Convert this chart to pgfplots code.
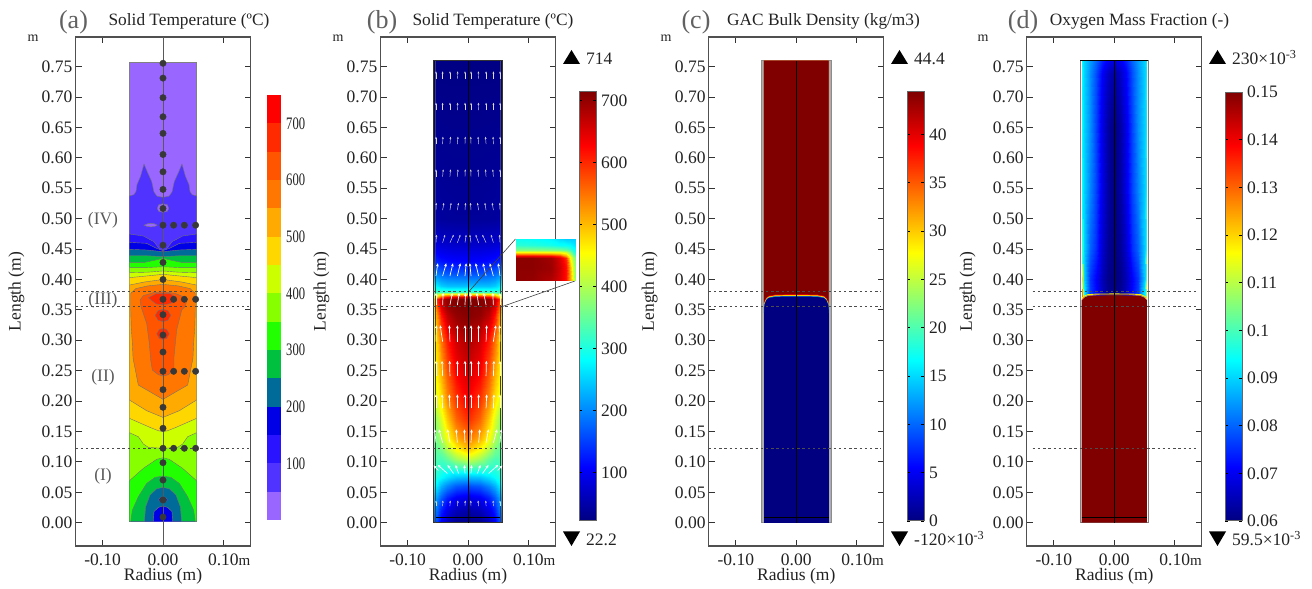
\documentclass[border=0pt]{standalone}
\usepackage{fontspec}
\usepackage{graphicx}
\usepackage{pgfplots}
\pgfplotsset{compat=1.18}
\usetikzlibrary{arrows.meta}
\setmainfont{Liberation Serif}
\newcommand\tk{\fontsize{17.5}{20}\selectfont}
\newcommand\ttl{\fontsize{17.3}{20}\selectfont}
\newcommand\pl{\fontsize{26}{28}\selectfont}
\definecolor{txt}{HTML}{222222}
\definecolor{axg}{HTML}{505050}
\definecolor{ca0}{HTML}{9966FF}\definecolor{ca1}{HTML}{5033FF}\definecolor{ca2}{HTML}{2A14FF}
\definecolor{ca3}{HTML}{0000E6}\definecolor{ca4}{HTML}{006B99}\definecolor{ca5}{HTML}{00C040}
\definecolor{ca6}{HTML}{22FF00}\definecolor{ca7}{HTML}{88FF00}\definecolor{ca8}{HTML}{CCFF00}
\definecolor{ca9}{HTML}{FFD700}\definecolor{ca10}{HTML}{FFAA00}\definecolor{ca11}{HTML}{FF7700}
\definecolor{ca12}{HTML}{FF5500}\definecolor{ca13}{HTML}{FF2A00}\definecolor{ca14}{HTML}{FF0000}
\definecolor{dred}{rgb}{0.5,0,0}\definecolor{dblu}{rgb}{0,0,0.5}
\pgfplotsset{colormap/jet}
\pgfplotsset{
 pan/.style={scale only axis,width=175pt,height=509pt,
  xmin=-0.1448,xmax=0.1448,ymin=-0.0383,ymax=0.7988,
  axis line style={draw=axg,line width=1.1pt},
  tick style={draw=black!80,line width=0.9pt},
  major tick length=6pt,tick align=inside,
  xtick={-0.1,0,0.1},xticklabels={-0.10,0.00,{0.10\rlap{\fontsize{15}{15}\selectfont m}}},
  ytick={0,0.05,0.10,0.15,0.20,0.25,0.30,0.35,0.40,0.45,0.50,0.55,0.60,0.65,0.70,0.75},
  ticklabel style={font=\tk,text=txt},
  yticklabel style={/pgf/number format/fixed,/pgf/number format/fixed zerofill,/pgf/number format/precision=2,/pgf/number format/assume math mode=true,inner sep=0pt,xshift=-3pt},
  xticklabel style={anchor=base,yshift=-20pt,inner sep=0pt},
  xlabel={Radius (m)},ylabel={Length (m)},
  label style={font=\tk,text=txt},
  x label style={at={(axis description cs:0.5,0)},anchor=base,yshift=-35pt,inner sep=0pt},
  y label style={at={(axis description cs:0,0.5)},anchor=base,yshift=55pt,inner sep=0pt},
  point meta min=22.2,point meta max=714,colormap name=jet,
 },
 dsh/.style={draw=black!70,line width=0.9pt,dash pattern=on 2.4pt off 2.8pt},
 ct/.style={draw=black!55,line width=0.4pt},
 cb/.style={scale only axis,width=17pt,axis on top,xmin=0,xmax=1,xtick=\empty,
  colormap name=jet,
  axis line style={draw=black!60,line width=1pt},
  tick style={draw=black,line width=0.8pt},major tick length=3pt,tick align=inside,
  yticklabel pos=right,ticklabel style={font=\tk,text=txt},
  yticklabel style={/pgf/number format/assume math mode=true,inner sep=0pt,xshift=5pt}},
}
\begin{document}
\begin{tikzpicture}[x=1pt,y=1pt]
\path (0,0) rectangle (1312,589);
% ============ panel a
\begin{axis}[pan,at={(75.5pt,43pt)},anchor=south west]
\addplot[fill=ca0,draw=black!50,line width=0.5pt] coordinates {(-.0555,.002)(.0555,.002)(.0555,.7566)(-.0555,.7566)} -- cycle;
\addplot[fill=ca1,ct] coordinates {(-.0555,.002)(-.0555,.5373)(-.0480,.5395)(-.0446,.5450)(-.0430,.5560)(-.0370,.5700)(-.0314,.5899)(-.0260,.5770)(-.0187,.5609)(-.0150,.5440)(-.0100,.5370)(0,.5351)(.0100,.5370)(.0150,.5440)(.0187,.5609)(.0260,.5770)(.0314,.5899)(.0370,.5700)(.0430,.5560)(.0446,.5450)(.0480,.5395)(.0555,.5373)(.0555,.002)};
\addplot[fill=ca0,ct] coordinates {(-.0095,.517)(-.007,.523)(0,.5245)(.007,.523)(.0095,.517)(.007,.512)(0,.5105)(-.007,.512)} -- cycle;
\addplot[fill=ca0,ct] coordinates {(-.0314,.4893)(-.026,.4915)(-.020,.4925)(-.014,.4915)(-.0095,.4893)(-.014,.4872)(-.020,.4865)(-.026,.4872)} -- cycle;
\addplot[fill=ca2,ct] coordinates {(-.0555,.002)(-.0555,.4748)(-.0325,.4715)(-.0149,.4622)(-.005,.4490)(0,.4441)(.005,.4490)(.0149,.4622)(.0325,.4715)(.0555,.4748)(.0555,.002)};
\addplot[fill=ca3,ct] coordinates {(-.0555,.002)(-.0555,.4611)(-.027,.4594)(-.0105,.4512)(0,.4474)(.0105,.4512)(.027,.4594)(.0555,.4611)(.0555,.002)};
\addplot[fill=ca4,ct] coordinates {(-.0555,.002)(-.0555,.4496)(-.027,.4485)(0,.4457)(.027,.4485)(.0555,.4496)(.0555,.002)(.016,.002)(.0149,.0181)(.0077,.0252)(0,.0274)(-.0077,.0252)(-.0149,.0181)(-.016,.002)} -- cycle;
\addplot[fill=ca3,ct] coordinates {(-.0072,.0373)(-.004,.0420)(.004,.0420)(.0072,.0373)(.004,.0340)(-.004,.0340)} -- cycle;
\addplot[fill=ca5,ct] coordinates {(-.0555,.002)(-.0555,.4391)(-.027,.4391)(0,.4375)(.027,.4391)(.0555,.4391)(.0555,.002)(.0309,.002)(.0287,.0263)(.0215,.0455)(.0105,.0559)(0,.0581)(-.0105,.0559)(-.0215,.0455)(-.0287,.0263)(-.0309,.002)} -- cycle;
\addplot[fill=ca6,ct] coordinates {(-.0555,.002)(-.0555,.4282)(-.03,.4282)(-.012,.432)(0,.4348)(.012,.432)(.03,.4282)(.0555,.4282)(.0555,.002)(.0534,.002)(.0507,.0208)(.0408,.0428)(.027,.0647)(.0132,.0746)(0,.0768)(-.0132,.0746)(-.027,.0647)(-.0408,.0428)(-.0507,.0208)(-.0534,.002)} -- cycle;
\addplot[fill=ca7,ct] coordinates {(-.0555,.0691)(-.0555,.4194)(-.03,.4194)(0,.4210)(.03,.4194)(.0555,.4194)(.0555,.0691)(.0325,.0894)(.0105,.1042)(0,.1069)(-.0105,.1042)(-.0325,.0894)} -- cycle;
\addplot[fill=ca8,ct] coordinates {(-.0555,.148)(-.0555,.4112)(-.025,.4120)(0,.4140)(.025,.4120)(.0555,.4112)(.0555,.148)(.0408,.1414)(.0325,.1294)(.0242,.1239)(0,.1223)(-.0242,.1239)(-.0325,.1294)(-.0408,.1414)} -- cycle;
\addplot[fill=ca9,ct] coordinates {(-.0555,.1716)(-.0555,.4030)(-.025,.4060)(0,.4085)(.025,.4060)(.0555,.4030)(.0555,.1716)(.0215,.1568)(.0077,.1513)(0,.1497)(-.0077,.1513)(-.0215,.1568)} -- cycle;
\addplot[fill=ca10,ct] coordinates {(-.0555,.2018)(-.0555,.3909)(-.03,.3960)(0,.4000)(.03,.3960)(.0555,.3909)(.0555,.2018)(.027,.1842)(0,.1732)(-.027,.1842)} -- cycle;
\addplot[fill=ca11,ct] coordinates {(-.0534,.377)(-.045,.3850)(-.025,.3895)(0,.392)(.025,.3895)(.045,.3850)(.0534,.377)(.0534,.35)(.0525,.32)(.051,.30)(.0495,.27)(.0408,.2264)(0,.2029)(-.0408,.2264)(-.0495,.27)(-.051,.30)(-.0525,.32)(-.0534,.35)} -- cycle;
\addplot[fill=ca12,ct] coordinates {(-.038,.3662)(-.0325,.3734)(-.016,.3783)(0,.38)(.02,.3772)(.0336,.3717)(.039,.3635)(.0364,.3553)(.0309,.3498)(.0226,.3169)(.0182,.273)(.0182,.2511)(.0088,.2434)(0,.2412)(-.0077,.2434)(-.0176,.2511)(-.0204,.2675)(-.0226,.295)(-.027,.3279)(-.0364,.3553)} -- cycle;
\addplot[fill=ca13,ct] coordinates {(-.024,.3700)(-.012,.3765)(0,.3775)(.012,.3765)(.02,.372)(.023,.365)(.012,.3605)(0,.358)(-.012,.36)} -- cycle;
\addplot[fill=ca13,ct] coordinates {(-.013,.3410)(-.008,.349)(0,.351)(.008,.349)(.013,.3410)(.008,.333)(0,.3306)(-.008,.333)} -- cycle;
\addplot[fill=ca13,ct] coordinates {(-.0105,.3105)(-.006,.318)(0,.3196)(.006,.318)(.0105,.3105)(.006,.303)(0,.3015)(-.006,.303)} -- cycle;
\addplot[draw=black!65,line width=0.8pt] coordinates {(0,-.0383)(0,.7988)};
\addplot[dsh] coordinates {(-.1448,.38)(.143,.38)};
\addplot[dsh] coordinates {(-.1448,.355)(.143,.355)};
\addplot[dsh] coordinates {(-.1448,.122)(.143,.122)};
\addplot[only marks,mark=*,mark size=3.2pt,color=black!78,mark options={draw=black!78,fill=black!78}] table[row sep=\\] {
x y\\ 0 .7556\\ 0 .7312\\ 0 .699\\ 0 .6676\\ 0 .6403\\ 0 .6056\\ 0 .5771\\ 0 .5481\\ 0 .5168\\ 0 .4893\\ 0 .4564\\ 0 .4280\\ 0 .4000\\ 0 .3674\\ 0 .3421\\ 0 .3087\\ 0 .2807\\ 0 .2490\\ 0 .2188\\ 0 .1898\\ 0 .1553\\ 0 .1224\\ 0 .0987\\ 0 .0702\\ 0 .0373\\ 0 .0094\\
.0176 .4893\\ .0353 .4893\\ .054 .4893\\ .0176 .3674\\ .0353 .3674\\ .054 .3674\\ .0176 .249\\ .0353 .249\\ .054 .249\\ .0176 .1224\\ .0353 .1224\\ .054 .1224\\
};
\end{axis}
% colour bar a
\begin{axis}[scale only axis,width=14pt,height=425pt,at={(267pt,69pt)},anchor=south west,xmin=0,xmax=1,ymin=0,ymax=750,
 axis line style={draw=none},xtick=\empty,ytick={100,200,300,400,500,600,700},
 yticklabels={\scalebox{.72}[1]{100},\scalebox{.72}[1]{200},\scalebox{.72}[1]{300},\scalebox{.72}[1]{400},\scalebox{.72}[1]{500},\scalebox{.72}[1]{600},\scalebox{.72}[1]{700}},
 yticklabel pos=right,major tick length=0pt,ticklabel style={font=\tk,text=txt,inner sep=0pt,xshift=5pt}]
\addplot[fill=ca0,draw=none] coordinates {(0,0)(1,0)(1,50)(0,50)};
\addplot[fill=ca1,draw=none] coordinates {(0,50)(1,50)(1,100)(0,100)};
\addplot[fill=ca2,draw=none] coordinates {(0,100)(1,100)(1,150)(0,150)};
\addplot[fill=ca3,draw=none] coordinates {(0,150)(1,150)(1,200)(0,200)};
\addplot[fill=ca4,draw=none] coordinates {(0,200)(1,200)(1,250)(0,250)};
\addplot[fill=ca5,draw=none] coordinates {(0,250)(1,250)(1,300)(0,300)};
\addplot[fill=ca6,draw=none] coordinates {(0,300)(1,300)(1,350)(0,350)};
\addplot[fill=ca7,draw=none] coordinates {(0,350)(1,350)(1,400)(0,400)};
\addplot[fill=ca8,draw=none] coordinates {(0,400)(1,400)(1,450)(0,450)};
\addplot[fill=ca9,draw=none] coordinates {(0,450)(1,450)(1,500)(0,500)};
\addplot[fill=ca10,draw=none] coordinates {(0,500)(1,500)(1,550)(0,550)};
\addplot[fill=ca11,draw=none] coordinates {(0,550)(1,550)(1,600)(0,600)};
\addplot[fill=ca12,draw=none] coordinates {(0,600)(1,600)(1,650)(0,650)};
\addplot[fill=ca13,draw=none] coordinates {(0,650)(1,650)(1,700)(0,700)};
\addplot[fill=ca14,draw=none] coordinates {(0,700)(1,700)(1,750)(0,750)};
\end{axis}
% ============ panel b
\begin{axis}[pan,at={(380.5pt,43pt)},anchor=south west]
\addplot[surf,shader=interp,mesh/cols=11,point meta=explicit] coordinates {
(-.0573,0)[170](-.052,0)[150](-.045,0)[100](-.035,0)[60](-.02,0)[30](0,0)[25](.02,0)[30](.035,0)[60](.045,0)[100](.052,0)[150](.0573,0)[170]
(-.0573,.02)[200](-.052,.02)[180](-.045,.02)[130](-.035,.02)[90](-.02,.02)[60](0,.02)[50](.02,.02)[60](.035,.02)[90](.045,.02)[130](.052,.02)[180](.0573,.02)[200]
(-.0573,.04)[230](-.052,.04)[210](-.045,.04)[170](-.035,.04)[130](-.02,.04)[100](0,.04)[90](.02,.04)[100](.035,.04)[130](.045,.04)[170](.052,.04)[210](.0573,.04)[230]
(-.0573,.06)[280](-.052,.06)[265](-.045,.06)[230](-.035,.06)[200](-.02,.06)[170](0,.06)[160](.02,.06)[170](.035,.06)[200](.045,.06)[230](.052,.06)[265](.0573,.06)[280]
(-.0573,.075)[310](-.052,.075)[300](-.045,.075)[285](-.035,.075)[265](-.02,.075)[245](0,.075)[240](.02,.075)[245](.035,.075)[265](.045,.075)[285](.052,.075)[300](.0573,.075)[310]
(-.0573,.09)[330](-.052,.09)[320](-.045,.09)[310](-.035,.09)[310](-.02,.09)[320](0,.09)[330](.02,.09)[320](.035,.09)[310](.045,.09)[310](.052,.09)[320](.0573,.09)[330]
(-.0573,.105)[340](-.052,.105)[335](-.045,.105)[330](-.035,.105)[350](-.02,.105)[390](0,.105)[420](.02,.105)[390](.035,.105)[350](.045,.105)[330](.052,.105)[335](.0573,.105)[340]
(-.0573,.12)[350](-.052,.12)[350](-.045,.12)[360](-.035,.12)[400](-.02,.12)[450](0,.12)[490](.02,.12)[450](.035,.12)[400](.045,.12)[360](.052,.12)[350](.0573,.12)[350]
(-.0573,.14)[360](-.052,.14)[370](-.045,.14)[400](-.035,.14)[450](-.02,.14)[510](0,.14)[550](.02,.14)[510](.035,.14)[450](.045,.14)[400](.052,.14)[370](.0573,.14)[360]
(-.0573,.17)[390](-.052,.17)[395](-.045,.17)[430](-.035,.17)[490](-.02,.17)[560](0,.17)[600](.02,.17)[560](.035,.17)[490](.045,.17)[430](.052,.17)[395](.0573,.17)[390]
(-.0573,.20)[440](-.052,.20)[440](-.045,.20)[470](-.035,.20)[530](-.02,.20)[590](0,.20)[630](.02,.20)[590](.035,.20)[530](.045,.20)[470](.052,.20)[440](.0573,.20)[440]
(-.0573,.25)[450](-.052,.25)[470](-.045,.25)[510](-.035,.25)[570](-.02,.25)[630](0,.25)[660](.02,.25)[630](.035,.25)[570](.045,.25)[510](.052,.25)[470](.0573,.25)[450]
(-.0573,.30)[455](-.052,.30)[490](-.045,.30)[550](-.035,.30)[610](-.02,.30)[660](0,.30)[685](.02,.30)[660](.035,.30)[610](.045,.30)[550](.052,.30)[490](.0573,.30)[455]
(-.0573,.34)[460](-.052,.34)[530](-.045,.34)[610](-.035,.34)[670](-.02,.34)[700](0,.34)[710](.02,.34)[700](.035,.34)[670](.045,.34)[610](.052,.34)[530](.0573,.34)[460]
(-.0573,.36)[470](-.052,.36)[580](-.045,.36)[660](-.035,.36)[700](-.02,.36)[712](0,.36)[714](.02,.36)[712](.035,.36)[700](.045,.36)[660](.052,.36)[580](.0573,.36)[470]
(-.0573,.368)[470](-.052,.368)[600](-.045,.368)[670](-.035,.368)[700](-.02,.368)[712](0,.368)[714](.02,.368)[712](.035,.368)[700](.045,.368)[670](.052,.368)[600](.0573,.368)[470]
(-.0573,.372)[420](-.052,.372)[500](-.045,.372)[580](-.035,.372)[630](-.02,.372)[650](0,.372)[660](.02,.372)[650](.035,.372)[630](.045,.372)[580](.052,.372)[500](.0573,.372)[420]
(-.0573,.376)[380](-.052,.376)[400](-.045,.376)[440](-.035,.376)[460](-.02,.376)[465](0,.376)[470](.02,.376)[465](.035,.376)[460](.045,.376)[440](.052,.376)[400](.0573,.376)[380]
(-.0573,.38)[340](-.052,.38)[320](-.045,.38)[320](-.035,.38)[320](-.02,.38)[320](0,.38)[320](.02,.38)[320](.035,.38)[320](.045,.38)[320](.052,.38)[320](.0573,.38)[340]
(-.0573,.39)[290](-.052,.39)[270](-.045,.39)[250](-.035,.39)[240](-.02,.39)[240](0,.39)[240](.02,.39)[240](.035,.39)[240](.045,.39)[250](.052,.39)[270](.0573,.39)[290]
(-.0573,.41)[200](-.052,.41)[190](-.045,.41)[175](-.035,.41)[165](-.02,.41)[160](0,.41)[160](.02,.41)[160](.035,.41)[165](.045,.41)[175](.052,.41)[190](.0573,.41)[200]
(-.0573,.43)[135](-.052,.43)[130](-.045,.43)[120](-.035,.43)[115](-.02,.43)[110](0,.43)[110](.02,.43)[110](.035,.43)[115](.045,.43)[120](.052,.43)[130](.0573,.43)[135]
(-.0573,.46)[85](-.052,.46)[80](-.045,.46)[75](-.035,.46)[72](-.02,.46)[70](0,.46)[70](.02,.46)[70](.035,.46)[72](.045,.46)[75](.052,.46)[80](.0573,.46)[85]
(-.0573,.50)[50](-.052,.50)[45](-.045,.50)[42](-.035,.50)[41](-.02,.50)[40](0,.50)[40](.02,.50)[40](.035,.50)[41](.045,.50)[42](.052,.50)[45](.0573,.50)[50]
(-.0573,.76)[25](-.052,.76)[25](-.045,.76)[25](-.035,.76)[25](-.02,.76)[25](0,.76)[25](.02,.76)[25](.035,.76)[25](.045,.76)[25](.052,.76)[25](.0573,.76)[25]
};
\addplot[draw=black!80,line width=0.5pt] coordinates {(-.0573,0)(.0573,0)(.0573,.76)(-.0573,.76)} -- cycle;
\addplot[draw=black!75,line width=0.5pt] coordinates {(-.0535,0)(-.0535,.76)};
\addplot[draw=black!75,line width=0.5pt] coordinates {(.0535,0)(.0535,.76)};
\addplot[draw=black,line width=0.5pt] coordinates {(-.0535,.0095)(.0535,.0095)};
\addplot[draw=black,line width=0.7pt] coordinates {(0,0)(0,.76)};
\addplot[quiver={u=\thisrow{u},v=\thisrow{v}},draw=white!85!black,line width=0.45pt,-{Stealth[length=2.2pt,width=1.8pt]}] table[row sep=\\] {
x y u v\\
-.053 .7303 0 .012\\ -.042 .7303 0 .012\\ -.0299 .7303 0 .012\\ -.0176 .7303 .0005 .012\\ -.005 .7303 0 .012\\ .005 .7303 0 .012\\ .0176 .7303 -.0005 .012\\ .0299 .7303 0 .012\\ .042 .7303 0 .012\\ .053 .7303 0 .012\\
-.053 .6787 0 .012\\ -.042 .6787 0 .012\\ -.0299 .6787 0 .012\\ -.0176 .6787 .0005 .012\\ -.005 .6787 0 .012\\ .005 .6787 0 .012\\ .0176 .6787 -.0005 .012\\ .0299 .6787 0 .012\\ .042 .6787 0 .012\\ .053 .6787 0 .012\\
-.053 .6228 0 .012\\ -.042 .6228 .0005 .012\\ -.0299 .6228 .001 .012\\ -.0176 .6228 .001 .012\\ -.005 .6228 .0005 .012\\ .005 .6228 -.0005 .012\\ .0176 .6228 -.001 .012\\ .0299 .6228 -.001 .012\\ .042 .6228 -.0005 .012\\ .053 .6228 0 .012\\
-.053 .569 0 .012\\ -.042 .569 .001 .012\\ -.0299 .569 .001 .012\\ -.0176 .569 .001 .012\\ -.005 .569 .0005 .012\\ .005 .569 -.0005 .012\\ .0176 .569 -.001 .012\\ .0299 .569 -.001 .012\\ .042 .569 -.001 .012\\ .053 .569 0 .012\\
-.053 .514 .0005 .012\\ -.042 .514 .002 .012\\ -.0299 .514 .002 .012\\ -.0176 .514 .002 .012\\ -.005 .514 .001 .012\\ .005 .514 -.001 .012\\ .0176 .514 -.002 .012\\ .0299 .514 -.002 .012\\ .042 .514 -.002 .012\\ .053 .514 -.0005 .012\\
-.053 .4605 .001 .013\\ -.042 .4605 .004 .013\\ -.0299 .4605 .006 .013\\ -.0176 .4605 .005 .013\\ -.005 .4605 .002 .013\\ .005 .4605 -.002 .013\\ .0176 .4605 -.005 .013\\ .0299 .4605 -.006 .013\\ .042 .4605 -.004 .013\\ .053 .4605 -.001 .013\\
-.053 .0274 0 .009\\ -.042 .0274 .0005 .009\\ -.0299 .0274 .0005 .009\\ -.0176 .0274 .001 .009\\ -.005 .0274 .0005 .009\\ .005 .0274 -.0005 .009\\ .0176 .0274 -.001 .009\\ .0299 .0274 -.0005 .009\\ .042 .0274 -.0005 .009\\ .053 .0274 0 .009\\
};
\addplot[quiver={u=\thisrow{u},v=\thisrow{v}},draw=white,line width=0.7pt,-{Stealth[length=3.2pt,width=2.8pt]}] table[row sep=\\] {
x y u v\\
-.053 .4057 .003 .021\\ -.042 .4057 .006 .021\\ -.0299 .4057 .005 .021\\ -.0176 .4057 .005 .021\\ -.005 .4057 .002 .021\\ .005 .4057 -.002 .021\\ .0176 .4057 -.005 .021\\ .0299 .4057 -.005 .021\\ .042 .4057 -.006 .021\\ .053 .4057 -.003 .021\\
-.053 .358 0 .02\\ -.042 .358 .001 .02\\ -.0299 .358 .004 .02\\ -.0176 .358 .003 .02\\ -.005 .358 .001 .02\\ .005 .358 -.001 .02\\ .0176 .358 -.003 .02\\ .0299 .358 -.004 .02\\ .042 .358 -.001 .02\\ .053 .358 0 .02\\
-.053 .2977 .0005 .027\\ -.042 .2977 -.004 .027\\ -.0299 .2977 -.001 .027\\ -.0176 .2977 0 .027\\ -.005 .2977 0 .027\\ .005 .2977 0 .027\\ .0176 .2977 0 .027\\ .0299 .2977 .001 .027\\ .042 .2977 .004 .027\\ .053 .2977 -.0005 .027\\
-.053 .2412 0 .025\\ -.042 .2412 -.001 .025\\ -.0299 .2412 -.0005 .025\\ -.0176 .2412 0 .025\\ -.005 .2412 0 .025\\ .005 .2412 0 .025\\ .0176 .2412 0 .025\\ .0299 .2412 .0005 .025\\ .042 .2412 .001 .025\\ .053 .2412 0 .025\\
-.053 .188 0 .023\\ -.042 .188 -.001 .023\\ -.0299 .188 -.001 .023\\ -.0176 .188 0 .023\\ -.005 .188 0 .023\\ .005 .188 0 .023\\ .0176 .188 0 .023\\ .0299 .188 .001 .023\\ .042 .188 .001 .023\\ .053 .188 0 .023\\
-.053 .1316 -.002 .022\\ -.042 .1316 -.006 .022\\ -.0299 .1316 -.004 .022\\ -.0176 .1316 -.002 .022\\ -.005 .1316 -.001 .022\\ .005 .1316 .001 .022\\ .0176 .1316 .002 .022\\ .0299 .1316 .004 .022\\ .042 .1316 .006 .022\\ .053 .1316 .002 .022\\
-.049 .086 -.008 .008\\ -.034 .081 -.016 .014\\ -.024 .081 -.010 .014\\ -.0156 .081 -.005 .014\\ -.005 .081 -.001 .014\\ .005 .081 .001 .014\\ .0156 .081 .005 .014\\ .024 .081 .010 .014\\ .034 .081 .016 .014\\ .049 .086 .008 .008\\
};
\addplot[dsh] coordinates {(-.1448,.38)(.14,.38)};
\addplot[dsh] coordinates {(-.1448,.355)(.14,.355)};
\addplot[dsh] coordinates {(-.1448,.122)(.14,.122)};
\end{axis}
% inset connectors
\draw[black!75,line width=0.6pt] (468.5,297)--(515.5,350);
\draw[black!75,line width=0.6pt] (501,282)--(575,308);
% inset
\begin{axis}[scale only axis,width=59.5pt,height=42pt,at={(515.5pt,308pt)},anchor=south west,hide axis,xmin=0,xmax=1,ymin=0,ymax=1,colormap name=jet,point meta min=22.2,point meta max=714]
\addplot[surf,shader=interp,mesh/cols=8,point meta=explicit] coordinates {
(0,0)[705](.3,0)[700](.6,0)[680](.75,0)[650](.85,0)[615](.92,0)[520](.97,0)[440](1,0)[380]
(0,.3)[705](.3,.3)[705](.6,.3)[695](.75,.3)[660](.85,.3)[620](.92,.3)[510](.97,.3)[430](1,.3)[380]
(0,.54)[705](.3,.54)[705](.6,.54)[690](.75,.54)[650](.85,.54)[600](.92,.54)[460](.97,.54)[400](1,.54)[370]
(0,.6)[640](.3,.6)[640](.6,.6)[630](.75,.6)[600](.85,.6)[520](.92,.6)[440](.97,.6)[370](1,.6)[350]
(0,.645)[540](.3,.645)[540](.6,.645)[530](.75,.645)[510](.85,.645)[470](.92,.645)[400](.97,.645)[340](1,.645)[320]
(0,.685)[450](.3,.685)[450](.6,.685)[445](.75,.685)[440](.85,.685)[420](.92,.685)[370](.97,.685)[320](1,.685)[300]
(0,.74)[370](.3,.74)[370](.6,.74)[365](.75,.74)[360](.85,.74)[350](.92,.74)[330](.97,.74)[300](1,.74)[290]
(0,.86)[310](.3,.86)[305](.6,.86)[295](.75,.86)[285](.85,.86)[285](.92,.86)[280](.97,.86)[270](1,.86)[265]
(0,1)[290](.3,1)[285](.6,1)[275](.75,1)[260](.85,1)[250](.92,1)[250](.97,1)[250](1,1)[250]
};
\end{axis}
% colour bar b
\begin{axis}[cb,height=429pt,at={(579pt,68pt)},anchor=south west,ymin=22.2,ymax=714,ytick={100,200,300,400,500,600,700}]
\addplot[surf,shader=interp,mesh/cols=2,point meta=y] coordinates {(0,22.2)(1,22.2)(0,714)(1,714)};
\end{axis}
% ============ panel c
\begin{axis}[pan,at={(708.8pt,43pt)},anchor=south west]
\addplot[fill=black!32,draw=black!45,line width=0.5pt] coordinates {(-.0573,0)(.0573,0)(.0573,.76)(-.0573,.76)} -- cycle;
\addplot[fill=dblu,draw=none] coordinates {(-.0535,0)(.0535,0)(.0535,.76)(-.0535,.76)} -- cycle;
\addplot[fill=cyan!60!blue,draw=none] coordinates {(-.0535,.345)(-.0530,.358)(-.050,.366)(-.046,.3695)(-.035,.3715)(0,.372)(.035,.3715)(.046,.3695)(.050,.366)(.0530,.358)(.0535,.345)(.0535,.76)(-.0535,.76)} -- cycle;
\addplot[fill=yellow,draw=none] coordinates {(-.0535,.355)(-.0530,.360)(-.050,.3672)(-.046,.3707)(-.035,.3727)(0,.3732)(.035,.3727)(.046,.3707)(.050,.3672)(.0530,.360)(.0535,.355)(.0535,.76)(-.0535,.76)} -- cycle;
\addplot[fill=red,draw=none] coordinates {(-.0535,.358)(-.0530,.362)(-.050,.3684)(-.046,.3719)(-.035,.3739)(0,.3744)(.035,.3739)(.046,.3719)(.050,.3684)(.0530,.362)(.0535,.358)(.0535,.76)(-.0535,.76)} -- cycle;
\addplot[fill=dred,draw=none] coordinates {(-.0535,.361)(-.0530,.364)(-.050,.3696)(-.046,.3731)(-.035,.3751)(0,.3756)(.035,.3751)(.046,.3731)(.050,.3696)(.0530,.364)(.0535,.361)(.0535,.76)(-.0535,.76)} -- cycle;
\addplot[draw=black,line width=0.5pt] coordinates {(-.0535,.0095)(.0535,.0095)};
\addplot[draw=black,line width=0.7pt] coordinates {(0,0)(0,.76)};
\addplot[dsh] coordinates {(-.1448,.38)(.14,.38)};
\addplot[dsh] coordinates {(-.1448,.355)(.14,.355)};
\addplot[dsh] coordinates {(-.1448,.122)(.14,.122)};
\end{axis}
\begin{axis}[cb,height=429pt,at={(907pt,68pt)},anchor=south west,ymin=0,ymax=44.4,ytick={0,5,10,15,20,25,30,35,40}]
\addplot[surf,shader=interp,mesh/cols=2,point meta=y] coordinates {(0,0)(1,0)(0,44.4)(1,44.4)};
\end{axis}
% ============ panel d
\begin{axis}[pan,at={(1026.8pt,43pt)},anchor=south west,point meta min=.06,point meta max=.15]
\addplot[fill=white,draw=black!50,line width=0.8pt] coordinates {(-.0565,0)(.0565,0)(.0565,.76)(-.0565,.76)} -- cycle;
\addplot[surf,shader=interp,mesh/cols=15,point meta=explicit] coordinates {
(-.054,.37)[.13](-.052,.37)[.11](-.05,.37)[.095](-.04,.37)[.077](-.03,.37)[.072](-.02,.37)[.066](-.01,.37)[.062](0,.37)[.061](.01,.37)[.062](.02,.37)[.066](.03,.37)[.072](.04,.37)[.077](.05,.37)[.095](.052,.37)[.11](.054,.37)[.13]
(-.054,.40)[.12](-.052,.40)[.10](-.05,.40)[.09](-.04,.40)[.076](-.03,.40)[.071](-.02,.40)[.065](-.01,.40)[.061](0,.40)[.06](.01,.40)[.061](.02,.40)[.065](.03,.40)[.071](.04,.40)[.076](.05,.40)[.09](.052,.40)[.10](.054,.40)[.12]
(-.054,.45)[.10](-.052,.45)[.094](-.05,.45)[.09](-.04,.45)[.08](-.03,.45)[.075](-.02,.45)[.067](-.01,.45)[.062](0,.45)[.06](.01,.45)[.062](.02,.45)[.067](.03,.45)[.075](.04,.45)[.08](.05,.45)[.09](.052,.45)[.094](.054,.45)[.10]
(-.054,.55)[.095](-.052,.55)[.092](-.05,.55)[.09](-.04,.55)[.083](-.03,.55)[.077](-.02,.55)[.069](-.01,.55)[.063](0,.55)[.06](.01,.55)[.063](.02,.55)[.069](.03,.55)[.077](.04,.55)[.083](.05,.55)[.09](.052,.55)[.092](.054,.55)[.095]
(-.054,.65)[.095](-.052,.65)[.092](-.05,.65)[.09](-.04,.65)[.084](-.03,.65)[.077](-.02,.65)[.069](-.01,.65)[.063](0,.65)[.06](.01,.65)[.063](.02,.65)[.069](.03,.65)[.077](.04,.65)[.084](.05,.65)[.09](.052,.65)[.092](.054,.65)[.095]
(-.054,.74)[.094](-.052,.74)[.092](-.05,.74)[.09](-.04,.74)[.084](-.03,.74)[.078](-.02,.74)[.071](-.01,.74)[.066](0,.74)[.063](.01,.74)[.066](.02,.74)[.071](.03,.74)[.078](.04,.74)[.084](.05,.74)[.09](.052,.74)[.092](.054,.74)[.094]
(-.054,.76)[.094](-.052,.76)[.092](-.05,.76)[.09](-.04,.76)[.085](-.03,.76)[.08](-.02,.76)[.074](-.01,.76)[.07](0,.76)[.068](.01,.76)[.07](.02,.76)[.074](.03,.76)[.08](.04,.76)[.085](.05,.76)[.09](.052,.76)[.092](.054,.76)[.094]
};
\addplot[fill=dred,draw=none] coordinates {(-.054,0)(-.054,.366)(-.050,.370)(-.044,.3725)(-.03,.3735)(0,.3738)(.03,.3735)(.044,.3725)(.050,.370)(.054,.366)(.054,0)} -- cycle;
\addplot[draw=yellow,line width=0.9pt] coordinates {(-.054,.369)(-.050,.3725)(-.044,.375)(-.03,.376)(0,.3763)(.03,.376)(.044,.375)(.050,.3725)(.054,.369)};
\addplot[draw=orange,line width=0.5pt] coordinates {(-.054,.367)(-.050,.371)(-.044,.3735)(-.03,.3745)(0,.3748)(.03,.3745)(.044,.3735)(.050,.371)(.054,.367)};
\addplot[draw=black,line width=0.5pt] coordinates {(-.0565,.76)(.0565,.76)};
\addplot[draw=black,line width=0.5pt] coordinates {(-.054,.0095)(.054,.0095)};
\addplot[draw=black,line width=0.7pt] coordinates {(0,0)(0,.76)};
\addplot[dsh] coordinates {(-.135,.38)(.14,.38)};
\addplot[dsh] coordinates {(-.135,.355)(.14,.355)};
\addplot[dsh] coordinates {(-.135,.122)(.14,.122)};
\end{axis}
\begin{axis}[cb,height=429pt,at={(1225pt,68pt)},anchor=south west,ymin=.06,ymax=.15,ytick={.06,.07,.08,.09,.1,.11,.12,.13,.14,.15},
 yticklabels={0.06,0.07,0.08,0.09,0.1,0.11,0.12,0.13,0.14,0.15}]
\addplot[surf,shader=interp,mesh/cols=2,point meta=y] coordinates {(0,.06)(1,.06)(0,.15)(1,.15)};
\end{axis}
% ============ annotations
\tikzset{t/.style={inner sep=0pt,text=txt,font=\ttl},p/.style={inner sep=0pt,text=black!62,font=\pl},
 mm/.style={inner sep=0pt,text=txt,font=\fontsize{14}{14}\selectfont},r/.style={inner sep=0pt,text=black!65,font=\tk},v/.style={inner sep=0pt,text=txt,font=\tk,anchor=base west}}
\node[p] at (73.5,566.5) {(a)};
\node[t] at (189,567.5) {Solid Temperature (ºC)};
\node[p] at (382,566.5) {(b)};
\node[t] at (493,567.5) {Solid Temperature (ºC)};
\node[p] at (696,566.5) {(c)};
\node[t] at (823.5,567.5) {GAC Bulk Density (kg/m3)};
\node[p] at (1023,566.5) {(d)};
\node[t] at (1139.5,567.5) {Oxygen Mass Fraction (-)};
\node[mm] at (33,551) {m};
\node[mm] at (338,551) {m};
\node[mm] at (666,551) {m};
\node[mm] at (983,551) {m};
\node[r] at (103,369) {(IV)};
\node[r] at (103,289) {(III)};
\node[r] at (103,212) {(II)};
\node[r] at (103,113) {(I)};
\fill[black] (563,525)--(580,525)--(571.5,539)--cycle;
\fill[black] (563,57.5)--(580,57.5)--(571.5,43)--cycle;
\fill[black] (891,525)--(908,525)--(899.5,539)--cycle;
\fill[black] (891,57.5)--(908,57.5)--(899.5,43)--cycle;
\fill[black] (1209,525)--(1226,525)--(1217.5,539)--cycle;
\fill[black] (1209,57.5)--(1226,57.5)--(1217.5,43)--cycle;
\node[v] at (586,524) {714};
\node[v] at (586,43.5) {22.2};
\node[v] at (914,524) {44.4};
\node[v] at (914,43.5) {-120×10\textsuperscript{-3}};
\node[v] at (1232,524) {230×10\textsuperscript{-3}};
\node[v] at (1232,43.5) {59.5×10\textsuperscript{-3}};
\end{tikzpicture}
\end{document}
